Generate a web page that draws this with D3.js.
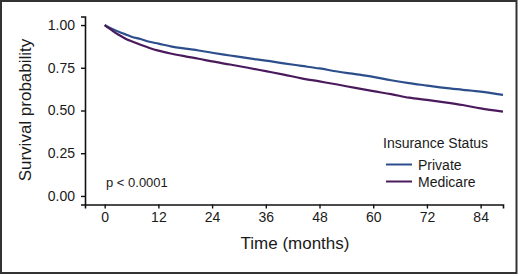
<!DOCTYPE html>
<html>
<head>
<meta charset="utf-8">
<script src="https://cdn.jsdelivr.net/npm/d3@7"></script>
<style>
  html, body { margin: 0; padding: 0; background: #fff; }
  svg { display: block; }
  text { font-family: "Liberation Sans", Arial, sans-serif; fill: #1a1a1a; }
</style>
</head>
<body>
<svg id="chart" width="520" height="276"></svg>
<script>
const months = [0, 1, 2, 3, 4, 5, 6, 8, 10, 12, 15, 18, 21, 24, 28, 32, 36, 40, 44, 48, 52, 56, 60, 64, 68, 72, 76, 80, 84, 89];
const privateSurv = [1.000, 0.985, 0.974, 0.962, 0.952, 0.942, 0.932, 0.918, 0.902, 0.891, 0.874, 0.862, 0.851, 0.838, 0.822, 0.806, 0.792, 0.776, 0.761, 0.746, 0.728, 0.713, 0.697, 0.677, 0.660, 0.646, 0.632, 0.621, 0.610, 0.591];
const medicareSurv = [1.000, 0.980, 0.962, 0.945, 0.930, 0.916, 0.905, 0.885, 0.866, 0.850, 0.832, 0.817, 0.803, 0.787, 0.769, 0.750, 0.730, 0.710, 0.688, 0.670, 0.652, 0.632, 0.613, 0.596, 0.575, 0.562, 0.548, 0.532, 0.512, 0.493];
const seriesNames = ["Private", "Medicare"];
const seriesColors = ["#2c4f8c", "#4b1a5c"];
const xTicks = [0, 12, 24, 36, 48, 60, 72, 84];
const yTicks = [0, 0.25, 0.5, 0.75, 1.0];
const pText = "p < 0.0001";

const svg = d3.select("#chart");

// outer frame
svg.append("rect").attr("x", 1).attr("y", 1).attr("width", 515.5).attr("height", 272)
  .attr("fill", "none").attr("stroke", "#333").attr("stroke-width", 2);

const x = d3.scaleLinear().domain([-4.4, 89]).range([85, 503]);
const y = d3.scaleLinear().domain([-0.05, 1.05]).range([204.5, 16.5]);

// axes
const xAxis = d3.axisBottom(x).tickValues(xTicks).tickFormat(d3.format("d")).tickSize(4).tickPadding(4);
const yAxis = d3.axisLeft(y).tickValues(yTicks).tickFormat(d3.format(".2f")).tickSize(4).tickPadding(6);

const gx = svg.append("g").attr("transform", "translate(0,204.5)").call(xAxis);
const gy = svg.append("g").attr("transform", "translate(85,0)").call(yAxis);
[gx, gy].forEach(g => {
  g.select(".domain").attr("stroke", "#111").attr("stroke-width", 1.6);
  g.selectAll(".tick line").attr("stroke", "#111").attr("stroke-width", 1.4);
  g.selectAll(".tick text").attr("font-family", "'Liberation Sans', Arial, sans-serif")
    .attr("font-size", 14).attr("fill", "#1a1a1a");
});

// series lines
const series = [privateSurv, medicareSurv];
const line = d3.line().x((d, i) => x(months[i])).y(d => y(d)).curve(d3.curveMonotoneX);
series.forEach((s, k) => {
  svg.append("path").datum(s).attr("d", line)
    .attr("fill", "none").attr("stroke", seriesColors[k]).attr("stroke-width", 2.2);
});

// axis titles
svg.append("text").attr("x", 295).attr("y", 249).attr("text-anchor", "middle")
  .attr("font-size", 17).text("Time (months)");
svg.append("text").attr("transform", "translate(31,110) rotate(-90)").attr("text-anchor", "middle")
  .attr("font-size", 17).text("Survival probability");

// p-value
svg.append("text").attr("x", 106).attr("y", 187).attr("font-size", 13).text(pText);

// legend
svg.append("text").attr("x", 383).attr("y", 148).attr("font-size", 14).text("Insurance Status");
seriesNames.forEach((n, k) => {
  const yy = 164.5 + k * 17;
  svg.append("line").attr("x1", 386).attr("x2", 412).attr("y1", yy).attr("y2", yy)
    .attr("stroke", seriesColors[k]).attr("stroke-width", 2);
  svg.append("text").attr("x", 418).attr("y", yy + 5).attr("font-size", 14).text(n);
});
</script>
</body>
</html>
